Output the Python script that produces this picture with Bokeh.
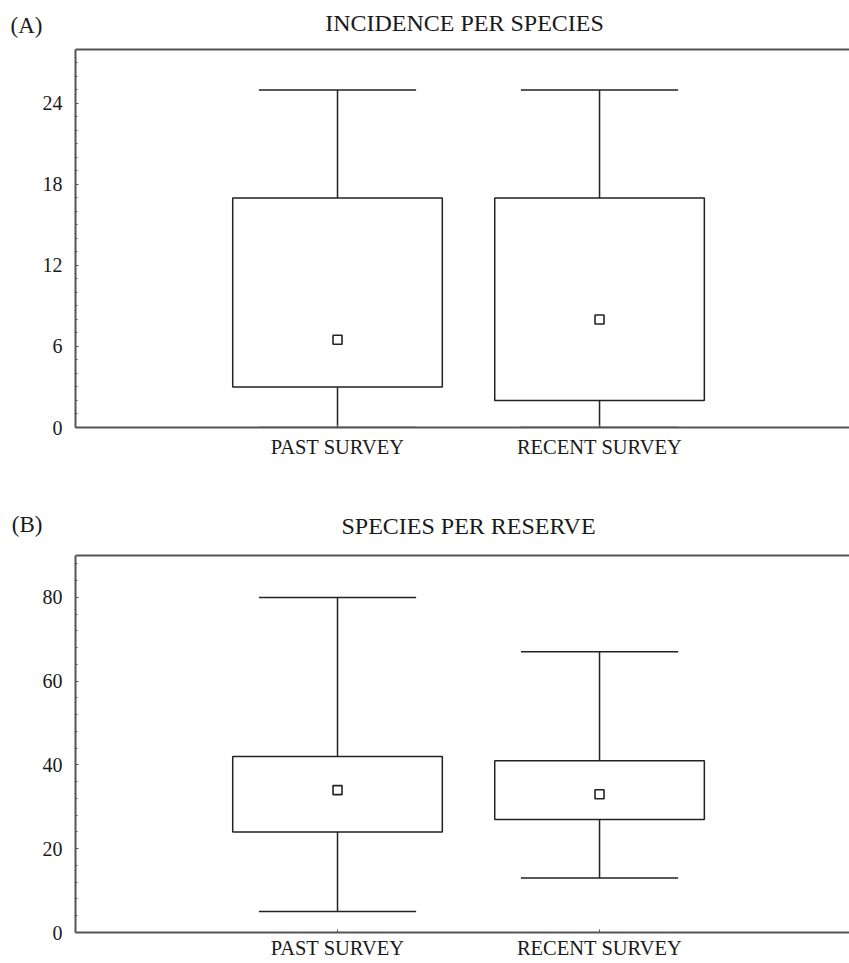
import numpy as np
from bokeh.plotting import figure
from bokeh.layouts import column
from bokeh.models import (Label, LinearAxis, Range1d, FixedTicker,
                          SingleIntervalTicker, Span)
from bokeh.embed import file_html
from bokeh.resources import INLINE

# ---------------- data ----------------
categories = ["PAST SURVEY", "RECENT SURVEY"]

a_whisker_low = [0, 0]
a_box_low = [3, 2]
a_center = [6.5, 8]
a_box_high = [17, 17]
a_whisker_high = [25, 25]

b_whisker_low = [5, 13]
b_box_low = [24, 27]
b_center = [34, 33]
b_box_high = [42, 41]
b_whisker_high = [80, 67]

FONT = "Liberation Serif"
TEXT = "#1a1a1a"
AXIS = "#555555"
LINE = "#222222"


def make_panel(tag, title, wl, bl, c, bh, wh, ymax, interval, n_minor,
               height, border_bottom, label_standoff, y_top, tag_y,
               title_x, title_y):
    pos = np.arange(1, len(categories) + 1, dtype=float)
    wl, bl, c, bh, wh = map(np.asarray, (wl, bl, c, bh, wh))
    p = figure(width=849, height=height, output_backend="svg",
               toolbar_location=None,
               x_range=Range1d(0, 2.954), y_range=Range1d(0, y_top),
               min_border_left=75, min_border_right=0,
               min_border_top=4, min_border_bottom=border_bottom)
    p.grid.visible = False
    p.outline_line_color = None
    p.background_fill_color = "white"
    p.border_fill_color = "white"

    # whiskers
    p.segment(x0=pos, y0=wl, x1=pos, y1=bl, line_color=LINE, line_width=1.5)
    p.segment(x0=pos, y0=bh, x1=pos, y1=wh, line_color=LINE, line_width=1.5)
    p.segment(x0=pos - 0.3, y0=wh, x1=pos + 0.3, y1=wh, line_color=LINE, line_width=1.5)
    p.segment(x0=pos - 0.3, y0=wl, x1=pos + 0.3, y1=wl, line_color=LINE, line_width=1.5)
    # boxes
    p.quad(left=pos - 0.4, right=pos + 0.4, bottom=bl, top=bh,
           fill_color="white", line_color=LINE, line_width=1.5)
    # center markers
    p.scatter(x=pos, y=c, marker="square", size=9, fill_color="white",
              line_color=LINE, line_width=1.6)

    # y axis (limited to the data area)
    ya = p.yaxis[0]
    ya.bounds = (0, ymax)
    ya.ticker = SingleIntervalTicker(interval=interval, num_minor_ticks=n_minor)
    ya.axis_line_color = AXIS
    ya.axis_line_width = 2
    ya.major_tick_in = 3
    ya.major_tick_out = 0
    ya.minor_tick_in = 2
    ya.minor_tick_out = 0
    ya.major_tick_line_color = AXIS
    ya.minor_tick_line_color = AXIS
    ya.major_label_text_font = FONT
    ya.major_label_text_font_size = "20px"
    ya.major_label_text_color = TEXT
    ya.major_label_standoff = 13

    # panel tag "(A)" / "(B)" as a label of an extra, line-less left axis
    tag_axis = LinearAxis(ticker=FixedTicker(ticks=[tag_y], minor_ticks=[]),
                          major_label_overrides={tag_y: tag},
                          axis_line_color=None, major_tick_line_color=None,
                          minor_tick_line_color=None,
                          major_tick_in=0, major_tick_out=0,
                          minor_tick_in=0, minor_tick_out=0,
                          major_label_standoff=-3,
                          major_label_text_font=FONT,
                          major_label_text_font_size="23px",
                          major_label_text_color=TEXT)
    p.add_layout(tag_axis, "left")

    # x axis
    xa = p.xaxis[0]
    xa.ticker = FixedTicker(ticks=list(pos), minor_ticks=[])
    xa.major_label_overrides = {float(k): v for k, v in zip(pos, categories)}
    xa.axis_line_color = AXIS
    xa.axis_line_width = 2
    xa.major_tick_in = 3
    xa.major_tick_out = 0
    xa.minor_tick_in = 0
    xa.minor_tick_out = 0
    xa.major_tick_line_color = AXIS
    xa.major_label_text_font = FONT
    xa.major_label_text_font_size = "20.5px"
    xa.major_label_text_color = TEXT
    xa.major_label_standoff = label_standoff

    # top border of the data area
    p.add_layout(Span(location=ymax, dimension="width", line_color=AXIS,
                      line_width=2))

    # panel title
    p.add_layout(Label(x=title_x, y=title_y, x_units="screen", y_units="screen",
                       text=title, text_font=FONT, text_font_size="24px",
                       text_color=TEXT, text_align="center",
                       text_baseline="alphabetic"))
    return p


pa = make_panel("(A)", "INCIDENCE  PER SPECIES", a_whisker_low, a_box_low,
                a_center, a_box_high, a_whisker_high, 28, 6, 6,
                height=484, border_bottom=57, label_standoff=8,
                y_top=31.333, tag_y=29.8, title_x=392, title_y=405)
pb = make_panel("(B)", "SPECIES PER RESERVE", b_whisker_low, b_box_low,
                b_center, b_box_high, b_whisker_high, 90, 20, 5,
                height=479, border_bottom=31, label_standoff=4,
                y_top=106.0, tag_y=97.5, title_x=393, title_y=407)

layout = column(pa, pb, spacing=0)
open("out.html", "w").write(file_html(layout, INLINE))
